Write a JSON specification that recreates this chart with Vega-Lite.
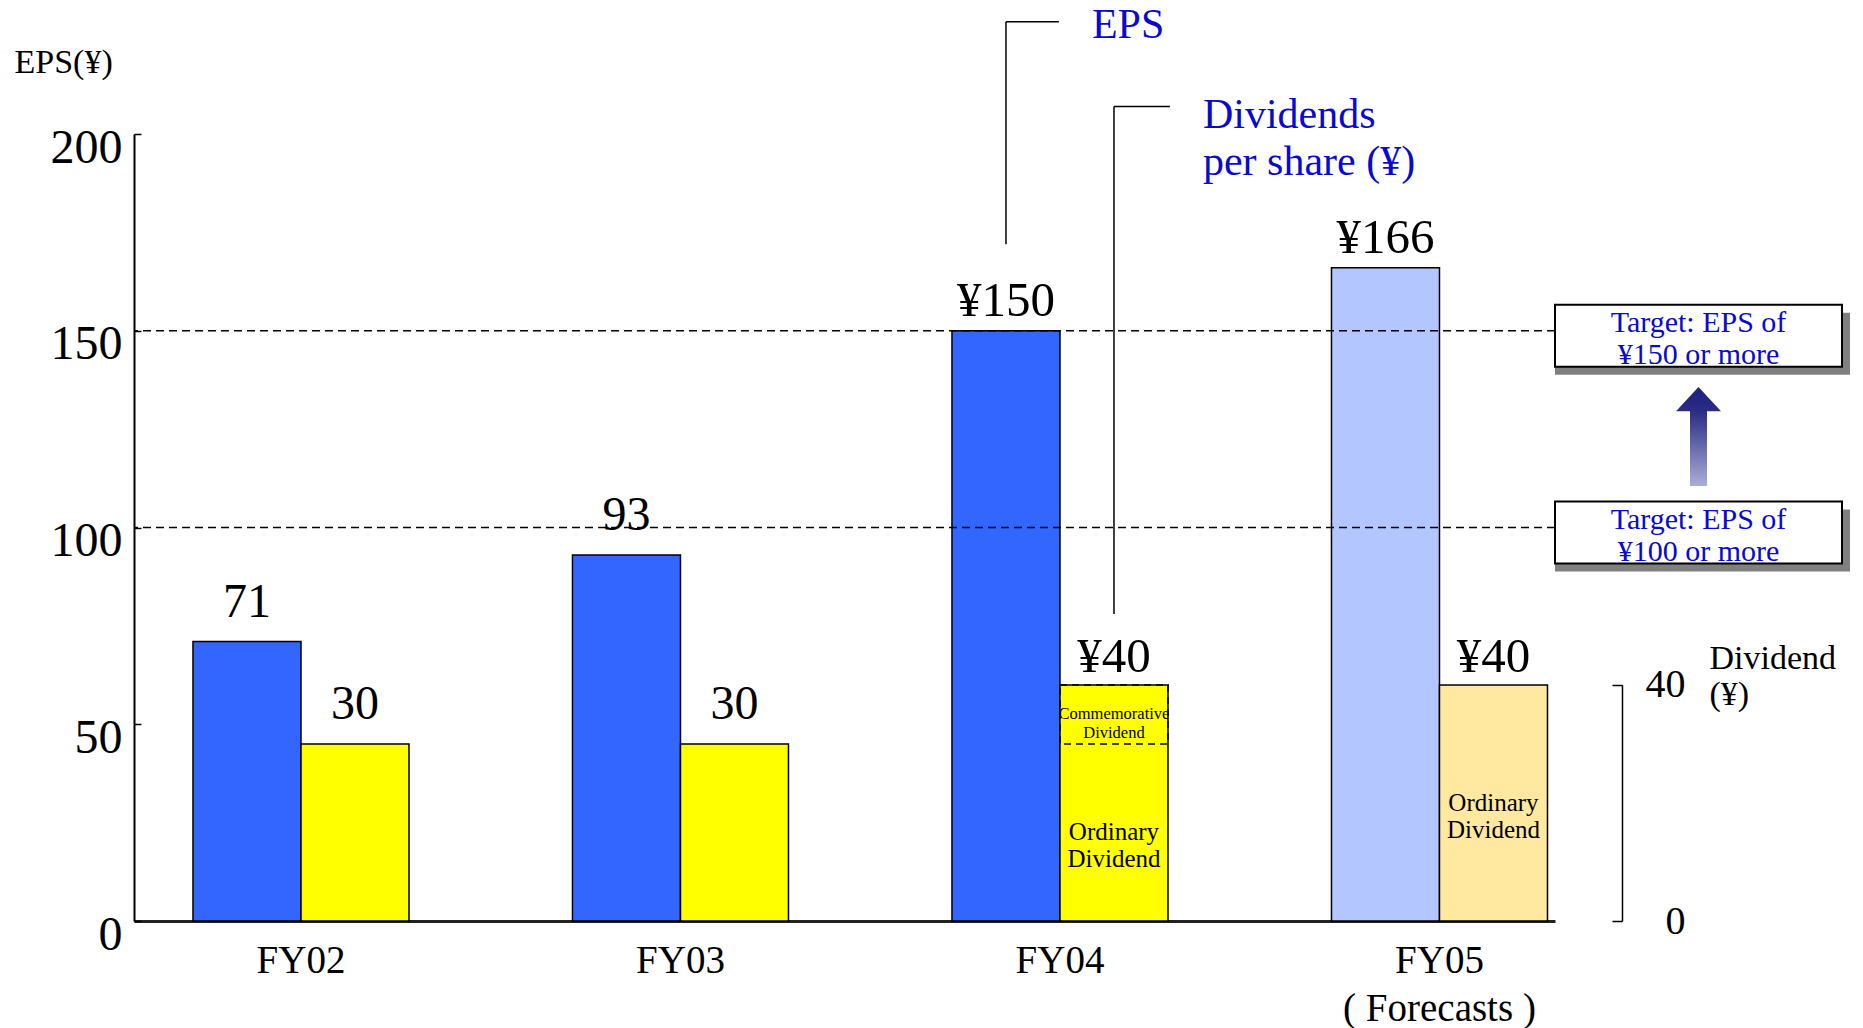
{
  "$schema": "https://vega.github.io/schema/vega-lite/v6.json",
  "background": "white",
  "padding": {"left": 14, "top": 3, "right": 0, "bottom": 0},
  "bounds": "flush",
  "spacing": 0,
  "config": {
    "font": "Liberation Serif",
    "view": {"stroke": null},
    "axis": {"grid": false, "labelColor": "#000", "titleColor": "#000", "titleFontWeight": "normal", "labelFont": "Liberation Serif", "titleFont": "Liberation Serif"},
    "locale": {"number": {"decimal": ".", "thousands": ",", "grouping": [3], "currency": ["¥", ""]}}
  },
  "datasets": {
    "per_share": [
      {"year": "FY02", "series": "EPS", "part": "EPS", "amount": 71, "status": "Actual"},
      {"year": "FY02", "series": "Dividend", "part": "Ordinary Dividend", "amount": 30, "status": "Actual"},
      {"year": "FY03", "series": "EPS", "part": "EPS", "amount": 93, "status": "Actual"},
      {"year": "FY03", "series": "Dividend", "part": "Ordinary Dividend", "amount": 30, "status": "Actual"},
      {"year": "FY04", "series": "EPS", "part": "EPS", "amount": 150, "status": "Actual"},
      {"year": "FY04", "series": "Dividend", "part": "Ordinary Dividend", "amount": 30, "status": "Actual"},
      {"year": "FY04", "series": "Dividend", "part": "Commemorative Dividend", "amount": 10, "status": "Actual"},
      {"year": "FY05", "series": "EPS", "part": "EPS", "amount": 166, "status": "Forecast"},
      {"year": "FY05", "series": "Dividend", "part": "Ordinary Dividend", "amount": 40, "status": "Forecast"}
    ],
    "targets": [
      {"target": 150, "label": "Target: EPS of\n¥150 or more"},
      {"target": 100, "label": "Target: EPS of\n¥100 or more"}
    ],
    "legend": [
      {"series": "EPS", "label": "EPS"},
      {"series": "Dividend", "label": "Dividends\nper share (¥)"}
    ]
  },
  "resolve": {"scale": {"y": "independent"}},
  "hconcat": [
    {
      "width": 1421,
      "height": 787,
      "resolve": {"scale": {"y": "independent", "color": "independent"}},
      "layer": [
        {
          "data": {"name": "per_share"},
          "transform": [{"filter": "datum.series == 'EPS'"}],
          "encoding": {
            "x": {
              "field": "year", "type": "nominal", "sort": null,
              "scale": {"domain": ["FY02", "FY03", "FY04", "FY05"], "paddingInner": 0.4308, "paddingOuter": 0.0876, "align": 0.887},
              "axis": {
                "title": null, "ticks": false, "labelAngle": 0, "labelFontSize": 39, "labelPadding": 20, "labelLimit": 0,
                "labelBaseline": "top", "labelLineHeight": 48, "domainColor": "#222", "domainWidth": 3,
                "labelExpr": "datum.value == 'FY05' ? ['FY05', '( Forecasts )'] : datum.value"
              }
            },
            "xOffset": {"field": "series", "type": "nominal", "scale": {"domain": ["EPS", "Dividend"], "paddingInner": 0, "paddingOuter": 0}},
            "y": {
              "field": "amount", "type": "quantitative",
              "scale": {"domain": [0, 200], "nice": false},
              "axis": {
                "orient": "left", "values": [0, 50, 100, 150, 200],
                "labelFontSize": 48, "labelPadding": 19, "labelOffset": 14, "labelBaseline": "middle", "labelFlush": false,
                "tickSize": -7, "tickColor": "#000", "tickWidth": 1.5, "domainColor": "#000", "domainWidth": 2,
                "title": "EPS(¥)", "titleAngle": 0, "titleAlign": "left", "titleBaseline": "alphabetic",
                "titleX": -120, "titleY": -62, "titleFontSize": 34
              }
            }
          },
          "layer": [
            {
              "mark": {"type": "bar", "stroke": "#000", "strokeWidth": 1.5},
              "encoding": {
                "color": {"field": "status", "type": "nominal", "scale": {"domain": ["Actual", "Forecast"], "range": ["#3366FF", "#B3C6FF"]}, "legend": null}
              }
            },
            {
              "transform": [{"filter": "datum.year == 'FY02' || datum.year == 'FY03'"}],
              "mark": {"type": "text", "baseline": "alphabetic", "dy": -25, "fontSize": 48, "color": "#000"},
              "encoding": {"text": {"field": "amount", "type": "quantitative", "format": "d"}}
            },
            {
              "transform": [{"filter": "datum.year == 'FY04' || datum.year == 'FY05'"}],
              "mark": {"type": "text", "baseline": "alphabetic", "dy": -15, "fontSize": 49, "color": "#000"},
              "encoding": {"text": {"field": "amount", "type": "quantitative", "format": "$d"}}
            }
          ]
        },
        {
          "layer": [
            {
              "data": {"name": "targets"},
              "mark": {"type": "rule", "color": "#000", "strokeWidth": 1.5, "strokeDash": [8, 5]},
              "encoding": {
                "y": {"field": "target", "type": "quantitative", "scale": {"domain": [0, 200], "nice": false}, "axis": null}
              }
            },
            {
              "data": {"name": "legend"},
              "transform": [{"filter": "datum.series == 'EPS'"}],
              "layer": [
                {
                  "mark": {"type": "rule", "color": "#000", "strokeWidth": 1.5},
                  "encoding": {
                    "x": {"datum": "FY04", "bandPosition": 0.25},
                    "y": {"datum": 172},
                    "y2": {"datum": 228.5}
                  }
                },
                {
                  "mark": {"type": "rule", "color": "#000", "strokeWidth": 1.5},
                  "encoding": {
                    "x": {"datum": "FY04", "bandPosition": 0.25},
                    "x2": {"datum": "FY04", "bandPosition": 0.495},
                    "y": {"datum": 228.5}
                  }
                },
                {
                  "mark": {"type": "text", "align": "left", "baseline": "middle", "dx": 33, "dy": 3, "fontSize": 42, "color": "#0A0ACC"},
                  "encoding": {
                    "x": {"datum": "FY04", "bandPosition": 0.495},
                    "y": {"datum": 228.5},
                    "text": {"field": "label"}
                  }
                }
              ]
            },
            {
              "data": {"name": "legend"},
              "transform": [{"filter": "datum.series == 'Dividend'"}],
              "layer": [
                {
                  "mark": {"type": "rule", "color": "#000", "strokeWidth": 1.5},
                  "encoding": {
                    "x": {"datum": "FY04", "bandPosition": 0.75},
                    "y": {"datum": 78},
                    "y2": {"datum": 207}
                  }
                },
                {
                  "mark": {"type": "rule", "color": "#000", "strokeWidth": 1.5},
                  "encoding": {
                    "x": {"datum": "FY04", "bandPosition": 0.75},
                    "x2": {"datum": "FY04", "bandPosition": 1.009},
                    "y": {"datum": 207}
                  }
                },
                {
                  "mark": {"type": "text", "align": "left", "baseline": "alphabetic", "dx": 33, "dy": 22, "fontSize": 42, "lineHeight": 47, "lineBreak": "\n", "color": "#0A0ACC"},
                  "encoding": {
                    "x": {"datum": "FY04", "bandPosition": 1.009},
                    "y": {"datum": 207},
                    "text": {"field": "label"}
                  }
                }
              ]
            }
          ]
        },
        {
          "data": {"name": "per_share"},
          "transform": [{"filter": "datum.series == 'Dividend'"}],
          "encoding": {
            "x": {"field": "year", "type": "nominal", "sort": null},
            "xOffset": {"field": "series", "type": "nominal"}
          },
          "layer": [
            {
              "mark": {"type": "bar", "strokeDash": [7, 5], "strokeWidth": 1.5},
              "encoding": {
                "y": {
                  "field": "amount", "type": "quantitative", "stack": "zero",
                  "scale": {"domain": [0, 40], "nice": false, "range": [{"expr": "height"}, {"expr": "height * 0.7"}]},
                  "axis": {
                    "orient": "right", "offset": 67, "values": [0, 40],
                    "tickSize": -10, "tickColor": "#000", "tickWidth": 1.5, "domainColor": "#000", "domainWidth": 1.5,
                    "labelFontSize": 40, "labelAlign": "right", "labelPadding": 73, "labelBaseline": "middle", "labelFlush": false,
                    "title": ["Dividend", "(¥)"], "titleAngle": 0, "titleAlign": "left", "titleBaseline": "alphabetic",
                    "titleX": 87, "titleY": 534, "titleFontSize": 34, "titleLineHeight": 36
                  }
                },
                "color": {"field": "status", "type": "nominal", "scale": {"domain": ["Actual", "Forecast"], "range": ["#FFFF00", "#FFE8A0"]}, "legend": null},
                "detail": {"field": "part"},
                "order": {"field": "part", "sort": "descending"},
                "stroke": {"condition": {"test": "datum.part == 'Commemorative Dividend'", "value": "#000"}, "value": "transparent"}
              }
            },
            {
              "mark": {"type": "bar", "fillOpacity": 0, "stroke": "#000", "strokeWidth": 1.5},
              "encoding": {"y": {"aggregate": "sum", "field": "amount", "type": "quantitative"}}
            },
            {
              "transform": [{"filter": "datum.year == 'FY02' || datum.year == 'FY03'"}],
              "mark": {"type": "text", "baseline": "alphabetic", "dy": -25, "fontSize": 48, "color": "#000"},
              "encoding": {
                "y": {"aggregate": "sum", "field": "amount", "type": "quantitative"},
                "text": {"aggregate": "sum", "field": "amount", "type": "quantitative", "format": "d"}
              }
            },
            {
              "transform": [{"filter": "datum.year == 'FY04' || datum.year == 'FY05'"}],
              "mark": {"type": "text", "baseline": "alphabetic", "dy": -13, "fontSize": 49, "color": "#000"},
              "encoding": {
                "y": {"aggregate": "sum", "field": "amount", "type": "quantitative"},
                "text": {"aggregate": "sum", "field": "amount", "type": "quantitative", "format": "$d"}
              }
            },
            {
              "transform": [{"filter": "datum.year == 'FY04' || datum.year == 'FY05'"}],
              "mark": {"type": "text", "baseline": "middle", "lineBreak": " ", "color": "#000"},
              "encoding": {
                "y": {"field": "amount", "type": "quantitative", "stack": "zero", "bandPosition": 0.5},
                "detail": {"field": "part"},
                "order": {"field": "part", "sort": "descending"},
                "text": {"field": "part"},
                "size": {"condition": {"test": "datum.part == 'Commemorative Dividend'", "value": 16.5}, "value": 25}
              }
            }
          ]
        }
      ]
    },
    {
      "width": 287,
      "height": 787,
      "data": {"name": "targets"},
      "encoding": {
        "y": {"field": "target", "type": "quantitative", "scale": {"domain": [0, 200], "nice": false}, "axis": null}
      },
      "layer": [
        {
          "mark": {"type": "rect", "fill": "#808080", "xOffset": 8, "x2Offset": 8, "yOffset": -18, "y2Offset": 44},
          "encoding": {"y2": {"field": "target"}}
        },
        {
          "mark": {"type": "rect", "fill": "#FFFFFF", "stroke": "#000", "strokeWidth": 2, "yOffset": -26, "y2Offset": 36},
          "encoding": {"y2": {"field": "target"}}
        },
        {
          "mark": {"type": "text", "baseline": "middle", "lineBreak": "\n", "lineHeight": 32, "dy": -8, "fontSize": 30, "color": "#0A0ACC"},
          "encoding": {"text": {"field": "label"}}
        },
        {
          "mark": {
            "type": "point", "filled": true, "opacity": 1, "strokeWidth": 0, "size": 2025,
            "shape": "M0,-1.867L1,-0.8L0.378,-0.8L0.378,2.533L-0.378,2.533L-0.378,-0.8L-1,-0.8Z",
            "fill": {"gradient": "linear", "x1": 0, "y1": 0, "x2": 0, "y2": 1, "stops": [
              {"offset": 0, "color": "#1E1F7E"},
              {"offset": 0.25, "color": "#2B2D85"},
              {"offset": 1, "color": "#ABADD9"}
            ]}
          },
          "encoding": {"y": {"aggregate": "mean", "field": "target", "type": "quantitative"}}
        }
      ]
    }
  ]
}
